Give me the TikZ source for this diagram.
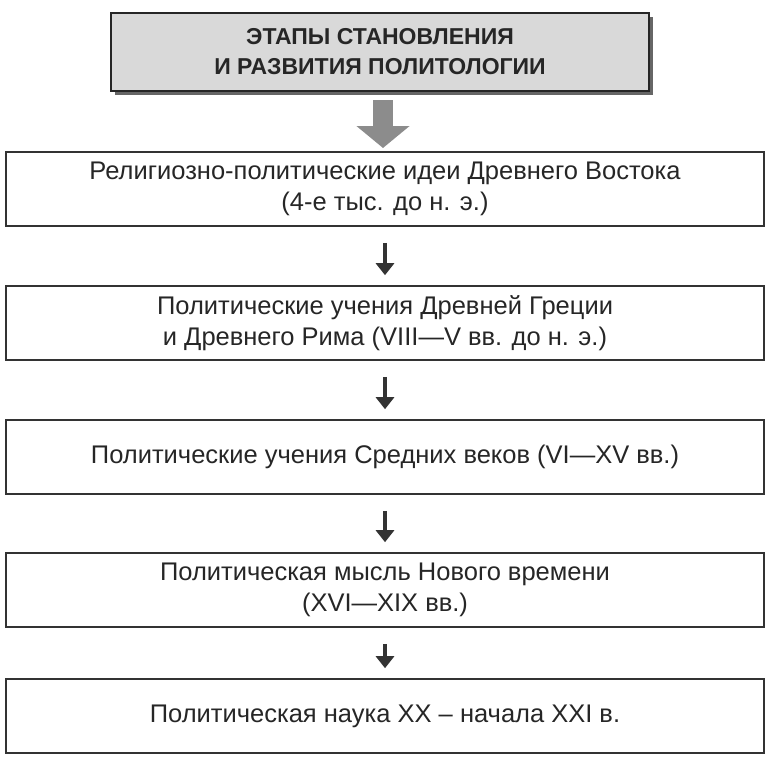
\documentclass[tikz,border=0pt]{standalone}
\usepackage{fontspec}
\setmainfont{Liberation Sans}
\usetikzlibrary{positioning,arrows.meta,shadows}

\tikzset{
  stage/.style={draw=black!80, line width=1.6pt, minimum width=758pt, minimum height=74pt,
    align=center, font=\fontsize{25.5}{31}\selectfont, text=black!85},
  titlebox/.style={draw=black!85, line width=2pt, fill=black!15, minimum width=538pt, minimum height=78pt,
    align=center, font=\fontsize{23}{30}\selectfont\bfseries, text=black!85,
    drop shadow={shadow xshift=4pt, shadow yshift=-4pt, fill=black!60, opacity=1}},
  smallarrow/.style={-{Triangle[width=18pt,length=12pt]}, line width=4pt, black!80},
  bigarrow/.style={-{Triangle[width=52pt,length=22pt]}, line width=20pt, black!45}
}

\begin{document}
\begin{tikzpicture}[x=1pt,y=-1pt]
\useasboundingbox (0,0) rectangle (770,760);

% Title
\node[titlebox] (title) at (380,52) {ЭТАПЫ СТАНОВЛЕНИЯ\\И РАЗВИТИЯ ПОЛИТОЛОГИИ};

% Stages
\node[stage] (s1) at (385,189) {Религиозно-политические идеи Древнего Востока\\(4-е тыс. до н. э.)};
\node[stage] (s2) at (385,323) {Политические учения Древней Греции\\и Древнего Рима (VIII—V вв. до н. э.)};
\node[stage] (s3) at (385,457) {Политические учения Средних веков (VI—XV вв.)};
\node[stage] (s4) at (385,590) {Политическая мысль Нового времени\\(XVI—XIX вв.)};
\node[stage] (s5) at (385,716) {Политическая наука XX – начала XXI в.};

% Arrows
\coordinate (b1) at (383,100);
\coordinate (b2) at (383,148);
\draw[bigarrow] (b1) -- (b2);
\foreach \a/\b in {s1/s2,s2/s3,s3/s4,s4/s5}
  \draw[smallarrow] ([yshift=-16pt]\a.south) -- ([yshift=10pt]\b.north);
\end{tikzpicture}
\end{document}
